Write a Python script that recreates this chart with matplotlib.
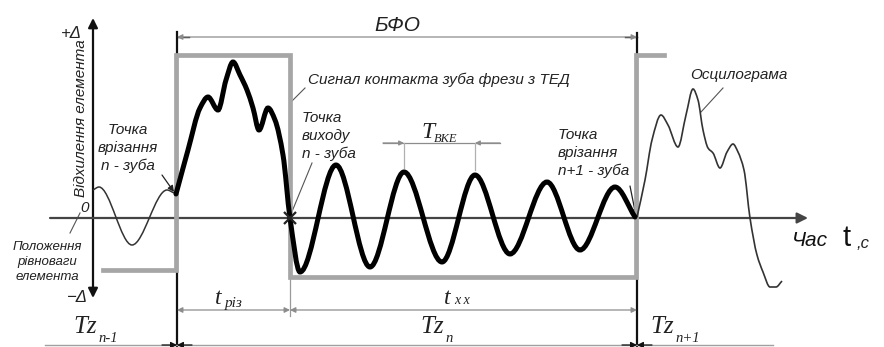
import numpy as np
import matplotlib.pyplot as plt
from matplotlib.path import Path
from matplotlib.patches import PathPatch

W, H = 884, 347

# waveform nodes (x, y in drawing units, y grows downwards)
free_x = [93, 99, 132, 167, 174]
free_y = [190, 187, 245, 190, 193]

tooth_x = [176, 188, 200, 208, 218, 226, 233, 240, 247, 253, 259, 268, 275, 283,
           290, 300, 336, 370, 404, 442, 475, 510, 547, 580, 615, 635]
tooth_y = [194, 150, 108, 97, 110, 80, 62, 75, 90, 108, 130, 108, 120, 155,
           218, 272, 165, 267, 172, 262, 175, 254, 182, 250, 187, 217]

osc_x = [637, 645, 652, 661, 668, 678, 686, 693, 698, 703, 708, 713, 720, 727,
         733, 738, 744, 750, 757, 763, 770, 776, 782]
osc_y = [217, 180, 140, 115, 125, 147, 115, 89, 100, 130, 148, 153, 168, 152,
         144, 152, 170, 218, 255, 272, 287, 287, 281]

# contact signal (rectangular pulse)
sig_x = [103, 176, 176, 290, 290, 636, 636, 664]
sig_y = [270, 270, 55, 55, 277, 277, 55, 55]

# tooth periods along the bottom
tz_x = [73, 420, 650]
tz_sub = ["n-1", "n", "n+1"]

AXIS_Y = 218
AXIS_X = 93
T_START, T_EXIT, T_NEXT = 177, 290, 637


def smooth_path(xs, ys):
    # monotone cubic (Fritsch-Carlson) turned into bezier segments
    x = np.asarray(xs, float)
    y = np.asarray(ys, float)
    h = np.diff(x)
    d = np.diff(y) / h
    m = np.zeros_like(y)
    m[0], m[-1] = d[0], d[-1]
    for i in range(1, len(y) - 1):
        if d[i - 1] * d[i] > 0:
            w1 = 2 * h[i] + h[i - 1]
            w2 = h[i] + 2 * h[i - 1]
            m[i] = (w1 + w2) / (w1 / d[i - 1] + w2 / d[i])
    verts = [(x[0], y[0])]
    codes = [Path.MOVETO]
    for i in range(len(h)):
        verts += [(x[i] + h[i] / 3, y[i] + m[i] * h[i] / 3),
                  (x[i + 1] - h[i] / 3, y[i + 1] - m[i + 1] * h[i] / 3),
                  (x[i + 1], y[i + 1])]
        codes += [Path.CURVE4] * 3
    return Path(verts, codes)


def arrow(ax, p0, p1, style="-|>", color="#222222", lw=1.0, ms=10, z=3):
    ax.annotate("", xy=p1, xytext=p0,
                arrowprops=dict(arrowstyle=style, color=color, lw=lw,
                                mutation_scale=ms, shrinkA=0, shrinkB=0),
                zorder=z)


fig = plt.figure(figsize=(W / 100, H / 100), dpi=100)
ax = fig.add_axes([0, 0, 1, 1])
ax.set_xlim(0, W)
ax.set_ylim(H, 0)
ax.axis("off")

sans = dict(family="Liberation Sans", style="italic", color="#222222")
serif = dict(family="Liberation Serif", style="italic", color="#222222")

# axes
arrow(ax, (AXIS_X, AXIS_Y), (AXIS_X, 18), color="#111111", lw=1.6, ms=14)
arrow(ax, (AXIS_X, AXIS_Y), (AXIS_X, 298), color="#111111", lw=1.6, ms=14)
arrow(ax, (50, AXIS_Y), (808, AXIS_Y), color="#444444", lw=1.6, ms=16)

# dimension extension lines
ax.plot([T_START, T_START], [32, H], color="#111111", lw=1.6, zorder=2)
ax.plot([T_NEXT, T_NEXT], [33, H], color="#111111", lw=1.6, zorder=2)
ax.plot([T_EXIT, T_EXIT], [277, 316], color="#9a9a9a", lw=0.9, zorder=2)
ax.plot([T_START, T_START + 12], [37, 37], color="#111111", lw=1.0, zorder=2)
ax.plot([T_NEXT - 12, T_NEXT], [37, 37], color="#111111", lw=1.0, zorder=2)

# contact signal
ax.plot(sig_x, sig_y, color="#a6a6a6", lw=3.4, solid_joinstyle="miter", zorder=4)

# waveforms
ax.add_patch(PathPatch(smooth_path(free_x, free_y), fill=False,
                       ec="#333333", lw=1.1, zorder=5))
ax.add_patch(PathPatch(smooth_path(osc_x, osc_y), fill=False,
                       ec="#333333", lw=1.2, zorder=5))
ax.add_patch(PathPatch(smooth_path(tooth_x, tooth_y), fill=False,
                       ec="#000000", lw=3.6, capstyle="round", zorder=6))
ax.plot([T_EXIT], [AXIS_Y], marker="x", ms=9, mew=1.6, color="#222222", zorder=7)

# dimensions
dim = "#8c8c8c"
arrow(ax, (T_START, 37), (T_NEXT, 37), style="<|-|>", color=dim, lw=0.9, ms=8)
arrow(ax, (T_START, 310), (T_EXIT, 310), style="<|-|>", color=dim, lw=0.9, ms=8)
arrow(ax, (T_EXIT, 310), (T_NEXT, 310), style="<|-|>", color=dim, lw=0.9, ms=8)
ax.plot([45, 773], [345, 345], color="#a0a0a0", lw=1.0, zorder=2)
for xe in (T_START, T_NEXT):
    arrow(ax, (xe + 15, 345), (xe, 345), color="#111111", lw=0.9, ms=9)
    arrow(ax, (xe - 15, 345), (xe, 345), color="#111111", lw=0.9, ms=9)

# period of free oscillations
ax.plot([383, 500], [143, 143], color=dim, lw=0.9, zorder=3)
arrow(ax, (383, 143), (404, 143), color=dim, lw=0.9, ms=7)
arrow(ax, (500, 143), (475, 143), color=dim, lw=0.9, ms=7)
ax.plot([404, 404], [143, 168], color="#b0b0b0", lw=0.9, zorder=3)
ax.plot([475, 475], [143, 170], color="#b0b0b0", lw=0.9, zorder=3)

# leaders
lead = "#555555"
ax.plot([80, 70], [213, 233], color=lead, lw=0.8)
ax.plot([305, 291], [88, 102], color=lead, lw=0.8)
ax.plot([312, 291], [163, 214], color=lead, lw=0.8)
ax.plot([723, 701], [88, 112], color=lead, lw=0.8)
arrow(ax, (162, 175), (174, 192), color="#222222", lw=0.9, ms=9)
arrow(ax, (630, 186), (636, 216), color="#222222", lw=0.9, ms=9)

# labels
ax.text(71, 33, "+Δ", fontsize=12, ha="center", va="center", **sans)
ax.text(77, 298, "−Δ", fontsize=12, ha="center", va="center", **sans)
ax.text(85, 208, "0", fontsize=11, ha="center", va="center", **sans)
ax.text(81, 118, "Відхилення елемента", fontsize=11, rotation=90,
        ha="center", va="center", **sans)
ax.text(128, 148, "Точка\nврізання\nn - зуба", fontsize=11, ha="center",
        va="center", linespacing=1.35, **sans)
ax.text(47, 262, "Положення\nрівноваги\nелемента", fontsize=9.5, ha="center",
        va="center", linespacing=1.35, **sans)
ax.text(308, 80, "Сигнал контакта зуба фрези з ТЕД", fontsize=11,
        ha="left", va="center", **sans)
ax.text(302, 136, "Точка\nвиходу\nn - зуба", fontsize=11, ha="left",
        va="center", linespacing=1.35, **sans)
ax.text(558, 153, "Точка\nврізання\nn+1 - зуба", fontsize=11, ha="left",
        va="center", linespacing=1.35, **sans)
ax.text(690, 75, "Осцилограма", fontsize=11, ha="left", va="center", **sans)
ax.text(397, 25, "БФО", fontsize=15, ha="center", va="center", **sans)

ax.text(428, 132, "T", fontsize=17, ha="center", va="center", **serif)
ax.text(434, 139, "ВКЕ", fontsize=9, ha="left", va="center", **serif)
ax.text(218, 299, "t", fontsize=17, ha="center", va="center", **serif)
ax.text(225, 303, "різ", fontsize=11, ha="left", va="center", **serif)
ax.text(447, 298, "t", fontsize=17, ha="center", va="center", **serif)
ax.text(454, 301, "x x", fontsize=10, ha="left", va="center", **serif)

for x0, sub in zip(tz_x, tz_sub):
    ax.text(x0, 327, "Tz", fontsize=18, ha="left", va="center", **serif)
    ax.text(x0 + 25, 339, sub, fontsize=10.5, ha="left", va="center", **serif)

ax.text(792, 240, "Час", fontsize=15, ha="left", va="center",
        family="Liberation Sans", style="italic", color="#111111")
ax.text(847, 238, "t", fontsize=21, ha="center", va="center",
        family="Liberation Sans", color="#111111")
ax.text(857, 243, ",с", fontsize=12, ha="left", va="center", **sans)

fig.savefig("out.png", dpi=100)
